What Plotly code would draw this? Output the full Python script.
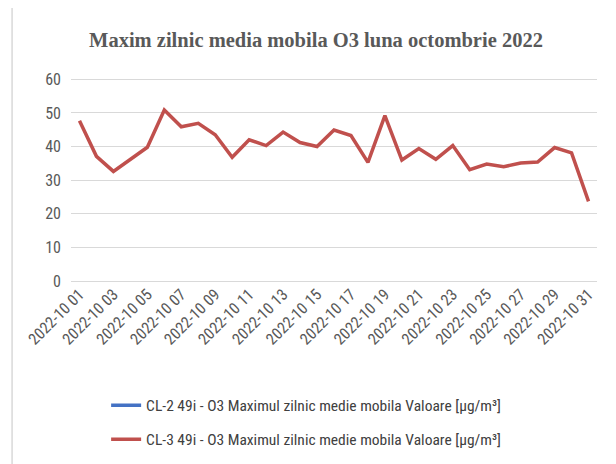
import plotly.graph_objects as go

# zilele lunii octombrie 2022
zile = [f"2022-10 {d:02d}" for d in range(1, 32)]

# CL-2 nu are valori pe grafic
valori_cl2 = [None] * 31

# CL-3 O3 maximul zilnic medie mobila [µg/m³]
valori_cl3 = [47.7, 37.1, 32.6, 36.1, 39.8, 50.9, 45.9, 46.9, 43.5, 36.8,
              42.0, 40.3, 44.3, 41.2, 40.0, 44.9, 43.3, 35.3, 49.2, 36.0,
              39.4, 36.2, 40.3, 33.1, 34.8, 34.0, 35.1, 35.4, 39.7, 38.1,
              23.7]

nume_cl2 = "CL-2 49i - O3 Maximul zilnic medie mobila Valoare [µg/m³]"
nume_cl3 = "CL-3 49i - O3 Maximul zilnic medie mobila Valoare [µg/m³]"
titlu = "Maxim zilnic media mobila O3 luna octombrie 2022"

font_txt = "Liberation Sans Narrow, Roboto Condensed, Arial Narrow, Liberation Sans"

fig = go.Figure()
fig.add_trace(go.Scatter(x=zile, y=valori_cl2, name=nume_cl2, mode='lines',
                         line=dict(color='#4472C4', width=3.5), legendgroup='a'))
fig.add_trace(go.Scatter(x=zile, y=valori_cl3, name=nume_cl3, mode='lines',
                         line=dict(color='#C0504D', width=3.5), legendgroup='b'))

# chenarul graficului (ca in Excel)
fig.add_shape(type='rect', xref='paper', yref='paper',
              x0=-0.112, x1=1.08, y0=-0.95, y1=1.355,
              line=dict(color='#d9d9d9', width=1.5), layer='below')

# pagina are 8px margine implicita in browser, deci marginile sunt mai mici cu 8
fig.update_layout(
    width=616, height=464,
    margin=dict(l=63, r=27, t=70, b=191, autoexpand=False),
    paper_bgcolor='white', plot_bgcolor='white',
    title=dict(text=f"<b>{titlu}</b>", x=0.5, xanchor='center', y=0.932, yanchor='middle',
               font=dict(family='Liberation Serif, Times New Roman, serif', size=20.5, color='#595959')),
    showlegend=True,
    legend=dict(orientation='v', x=0.447, xanchor='center', y=-0.53, yanchor='top',
                tracegroupgap=11,
                font=dict(family=font_txt, size=15.5, color='#404040')),
    font=dict(family=font_txt),
)

fig.update_xaxes(type='category', range=[-0.5, 30.5], automargin=False,
                 tickvals=zile[::2], ticktext=zile[::2], tickangle=-45,
                 showgrid=False, showline=False, ticks='',
                 tickfont=dict(family=font_txt, size=16, color='#595959'))
fig.update_yaxes(range=[0, 60.4], tickvals=[0, 10, 20, 30, 40, 50, 60], automargin=False,
                 showgrid=True, gridcolor='#d9d9d9', gridwidth=1.3,
                 zeroline=True, zerolinecolor='#d9d9d9', zerolinewidth=1.3,
                 showline=False, ticks='', ticklabelstandoff=9,
                 tickfont=dict(family=font_txt, size=16, color='#595959'))

fig.write_html("out.html")
